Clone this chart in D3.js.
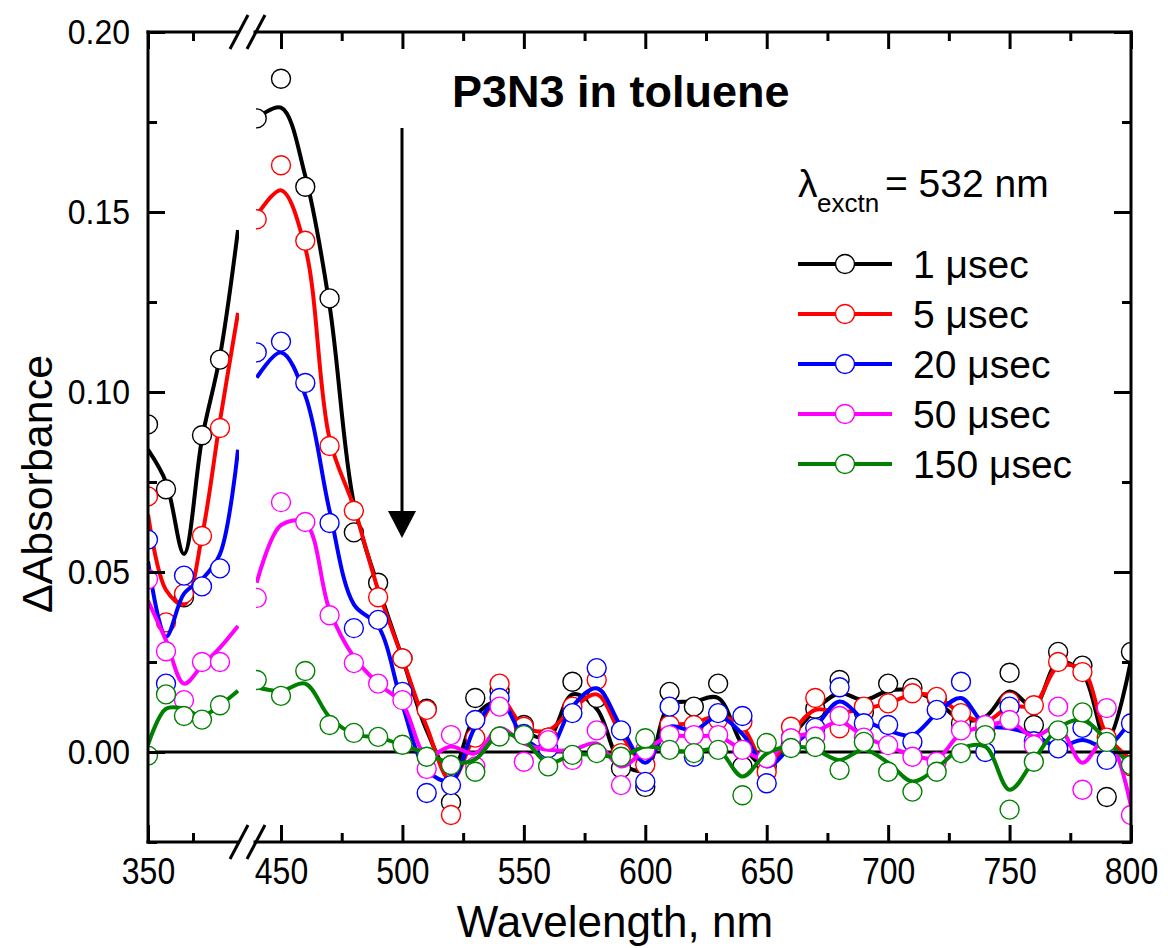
<!DOCTYPE html>
<html>
<head>
<meta charset="utf-8">
<script src="https://cdn.jsdelivr.net/npm/d3@7"></script>
<style>
  html, body { margin: 0; padding: 0; background: #fff; }
  svg text { font-family: "Liberation Sans", Arial, Helvetica, sans-serif; fill: #000; }
</style>
</head>
<body>
<svg id="chart" width="1168" height="948"></svg>
<script>
// Wavelengths (nm); the axis is broken between 400 and 440 nm
const wavelengths = [350, 360, 370, 380, 390, 400,
  440, 450, 460, 470, 480, 490, 500, 510, 520, 530,
  540, 550, 560, 570, 580, 590, 600, 610, 620, 630,
  640, 650, 660, 670, 680, 690, 700, 710, 720, 730,
  740, 750, 760, 770, 780, 790, 800];

const seriesNames = ["1 μsec", "5 μsec", "20 μsec", "50 μsec", "150 μsec"];
const seriesColors = ["#000000", "#ff0000", "#0000ff", "#ff00ff", "#008000"];

// Measured transient absorbance (open circles)
const pts1 = [0.091, 0.073, 0.043, 0.088, 0.109, null,
  0.176, 0.187, 0.157, 0.126, 0.061, 0.047, 0.026, 0.012, -0.014, 0.015,
  0.017, 0.0075, 0.004, 0.0195, 0.015, -0.0045, -0.0097, 0.0167, 0.0126, 0.019,
  -0.004, -0.004, 0.004, 0.012, 0.020, 0.011, 0.019, 0.0178, 0.015, 0.008,
  0.005, 0.022, 0.0075, 0.0278, 0.024, -0.0125, 0.0278];
const pts5 = [0.071, 0.036, 0.044, 0.060, 0.090, null,
  0.148, 0.163, 0.142, 0.085, 0.067, 0.043, 0.026, 0.0117, -0.0175, 0.004,
  0.019, 0.007, 0.004, 0.0126, 0.020, -0.0003, -0.0036, 0.0075, 0.0075, 0.009,
  0.0084, -0.0055, 0.007, 0.015, 0.0066, 0.0126, 0.0135, 0.0163, 0.0153, 0.0108,
  0.007, 0.014, 0.013, 0.025, 0.0222, 0.004, -0.004];
const pts20 = [0.059, 0.019, 0.049, 0.046, 0.051, null,
  0.111, 0.114, 0.1025, 0.0636, 0.0344, 0.0367, 0.0167, -0.0114, -0.0092, 0.0089,
  0.015, 0.005, 0.001, 0.0108, 0.0233, 0.006, -0.0083, 0.0126, -0.0013, 0.0108,
  0.010, -0.0087, 0.002, 0.0067, 0.018, 0.008, 0.0075, 0.0028, 0.0117, 0.0195,
  0.0, 0.0126, 0.003, 0.001, 0.0067, -0.0022, 0.008];
const pts50 = [0.048, 0.028, 0.0144, 0.025, 0.025, null,
  0.0428, 0.0694, 0.0639, 0.038, 0.0247, 0.019, 0.0144, -0.0047, 0.0047, -0.004,
  0.0126, -0.0027, 0.0033, -0.0022, 0.006, -0.0092, 0.0006, 0.0047, 0.0047, 0.0047,
  0.0006, -0.0017, 0.0038, 0.0043, 0.010, 0.004, 0.0019, -0.0013, -0.0027, 0.006,
  0.0075, 0.0089, 0.0019, 0.0126, -0.0105, 0.0122, -0.0175];
const pts150 = [-0.001, 0.016, 0.010, 0.009, 0.013, null,
  0.020, 0.0156, 0.0225, 0.0075, 0.0053, 0.0042, 0.002, -0.0013, -0.0036, -0.0055,
  0.0043, 0.0047, -0.004, -0.0008, -0.0003, -0.0013, 0.0038, 0.0006, -0.0003, 0.0006,
  -0.012, 0.0025, 0.0011, 0.0014, -0.005, 0.0028, -0.0055, -0.011, -0.0055, -0.0003,
  0.0047, -0.016, -0.0027, 0.006, 0.011, 0.0028, -0.0036];

// Smoothed traces (solid curves)
const fit1 = [0.084, 0.075, 0.055, 0.087, 0.110, 0.145,
  0.176, 0.179, 0.160, 0.124, 0.069, 0.046, 0.026, 0.006, -0.006, 0.010,
  0.014, 0.006, 0.004, 0.016, 0.012, -0.003, -0.005, 0.013, 0.014, 0.015,
  0.002, -0.004, 0.004, 0.0117, 0.0163, 0.0144, 0.017, 0.017, 0.014, 0.009,
  0.0098, 0.0168, 0.0126, 0.025, 0.022, 0.003, 0.0255];
const fit5 = [0.066, 0.045, 0.041, 0.060, 0.092, 0.122,
  0.149, 0.156, 0.140, 0.087, 0.068, 0.045, 0.026, 0.007, -0.008, 0.005,
  0.015, 0.007, 0.006, 0.012, 0.016, 0.005, -0.003, 0.007, 0.008, 0.010,
  0.007, -0.004, 0.005, 0.0117, 0.011, 0.012, 0.0135, 0.016, 0.0154, 0.0107,
  0.0084, 0.0126, 0.013, 0.0237, 0.0228, 0.0047, -0.002];
const fit20 = [0.053, 0.032, 0.044, 0.048, 0.055, 0.084,
  0.104, 0.111, 0.099, 0.067, 0.041, 0.035, 0.013, -0.005, -0.008, 0.007,
  0.0144, 0.004, 0.0006, 0.0126, 0.0177, 0.007, -0.003, 0.007, 0.006, 0.0098,
  0.005, -0.004, 0.0015, 0.007, 0.014, 0.009, 0.006, 0.0047, 0.0107, 0.015,
  0.0075, 0.0066, 0.0047, 0.0015, 0.0033, 0.0015, 0.009];
const fit50 = [0.042, 0.031, 0.019, 0.024, 0.029, 0.035,
  0.047, 0.063, 0.0636, 0.0394, 0.0264, 0.019, 0.0134, -0.001, 0.0015, -0.0004,
  0.0066, 0.0024, 0.0006, 0.0006, 0.0024, -0.004, 0.0006, 0.0043, 0.0043, 0.0043,
  0.0006, -0.002, 0.0038, 0.0056, 0.0084, 0.0043, 0.0015, -0.0008, -0.0018, 0.0052,
  0.007, 0.0084, 0.0043, 0.007, -0.003, 0.0043, -0.015];
const fit150 = [0.002, 0.012, 0.012, 0.010, 0.013, 0.017,
  0.018, 0.017, 0.019, 0.0097, 0.005, 0.004, 0.002, -0.0004, -0.003, -0.002,
  0.005, 0.0033, -0.003, -0.0008, -0.0008, -0.0013, 0.0015, 0.0006, 0.0001, 0.0006,
  -0.0068, -0.0004, 0.0015, 0.0006, -0.0022, 0.0006, -0.003, -0.0082, -0.0045, 0.001,
  0.0015, -0.0105, -0.0022, 0.0066, 0.0089, 0.0033, -0.004];

const pointSets = [pts1, pts5, pts20, pts50, pts150];
const fitSets = [fit1, fit5, fit20, fit50, fit150];

const yTicks = [0.00, 0.05, 0.10, 0.15, 0.20];
const yMinorTicks = [-0.025, 0.025, 0.075, 0.125, 0.175];
const xLeftTicks = [350];
const xLeftMinor = [375];
const xRightTicks = [450, 500, 550, 600, 650, 700, 750, 800];
const xRightMinor = [475, 525, 575, 625, 675, 725, 775];

const svg = d3.select("#chart");

// Geometry of the broken axis
const plotTop = 32, plotBottom = 842, plotLeft = 148, plotRight = 1131;
const breakLeft = 239, breakRight = 256;

const y = d3.scaleLinear().domain([-0.025, 0.20]).range([plotBottom, plotTop]);
const xL = d3.scaleLinear().domain([350, 400]).range([148, 238]);
const xR = d3.scaleLinear().domain([450, 800]).range([281, 1131]);

const defs = svg.append("defs");
defs.append("clipPath").attr("id", "clipL").append("rect")
  .attr("x", plotLeft).attr("y", plotTop).attr("width", breakLeft - plotLeft).attr("height", plotBottom - plotTop);
defs.append("clipPath").attr("id", "clipR").append("rect")
  .attr("x", breakRight).attr("y", plotTop).attr("width", plotRight - breakRight).attr("height", plotBottom - plotTop);

// Zero line across the full width
svg.append("line")
  .attr("x1", plotLeft).attr("x2", plotRight)
  .attr("y1", y(0)).attr("y2", y(0))
  .attr("stroke", "#000").attr("stroke-width", 3);

const segments = [
  { x: xL, clip: "url(#clipL)", keep: w => w <= 400 },
  { x: xR, clip: "url(#clipR)", keep: w => w >= 440 }
];

seriesNames.forEach((name, s) => {
  segments.forEach(seg => {
    const g = svg.append("g").attr("clip-path", seg.clip);
    const fitData = wavelengths.map((w, i) => ({ w, v: fitSets[s][i] })).filter(d => seg.keep(d.w));
    const ptData = wavelengths.map((w, i) => ({ w, v: pointSets[s][i] }))
      .filter(d => seg.keep(d.w) && d.v !== null);
    const line = d3.line()
      .x(d => seg.x(d.w)).y(d => y(d.v))
      .curve(d3.curveCatmullRom.alpha(0.5));
    g.append("path").datum(fitData)
      .attr("d", line)
      .attr("fill", "none")
      .attr("stroke", seriesColors[s])
      .attr("stroke-width", 4)
      .attr("stroke-linejoin", "round");
    g.selectAll("circle").data(ptData).join("circle")
      .attr("cx", d => seg.x(d.w)).attr("cy", d => y(d.v))
      .attr("r", 9.5)
      .attr("fill", "#fff")
      .attr("stroke", seriesColors[s])
      .attr("stroke-width", 1.4);
  });
});

// Axes: ticks point inward
const tickFont = "32px";
function styleAxis(g) {
  g.select(".domain").remove();
  g.selectAll(".tick line").attr("stroke", "#000").attr("stroke-width", 3);
  g.selectAll(".tick text").style("font-size", tickFont).attr("font-family", null);
}
function stretchXLabels(g, pad) {
  const s = 1.14;
  g.selectAll(".tick text")
    .attr("transform", `scale(1,${s})`)
    .attr("y", pad / s);
}

const bottomPad = 16;
[[xL, xLeftTicks, xLeftMinor], [xR, xRightTicks, xRightMinor]].forEach(([sc, major, minor]) => {
  const gb = svg.append("g").attr("transform", `translate(0,${plotBottom})`)
    .call(d3.axisBottom(sc).tickValues(major).tickSize(-17).tickPadding(bottomPad).tickFormat(d3.format("d")));
  styleAxis(gb);
  stretchXLabels(gb, bottomPad);
  const gbm = svg.append("g").attr("transform", `translate(0,${plotBottom})`)
    .call(d3.axisBottom(sc).tickValues(minor).tickSize(-9).tickFormat(""));
  styleAxis(gbm);
  const gt = svg.append("g").attr("transform", `translate(0,${plotTop})`)
    .call(d3.axisTop(sc).tickValues(major).tickSize(-17).tickFormat(""));
  styleAxis(gt);
  const gtm = svg.append("g").attr("transform", `translate(0,${plotTop})`)
    .call(d3.axisTop(sc).tickValues(minor).tickSize(-9).tickFormat(""));
  styleAxis(gtm);
});

const gl = svg.append("g").attr("transform", `translate(${plotLeft},0)`)
  .call(d3.axisLeft(y).tickValues(yTicks).tickSize(-17).tickPadding(18).tickFormat(d3.format(".2f")));
styleAxis(gl);
gl.selectAll(".tick text").attr("transform", "scale(1,1.1)").attr("y", 0);
svg.append("g").attr("transform", `translate(${plotLeft},0)`)
  .call(d3.axisLeft(y).tickValues(yMinorTicks).tickSize(-9).tickFormat("")).call(styleAxis);
svg.append("g").attr("transform", `translate(${plotRight},0)`)
  .call(d3.axisRight(y).tickValues(yTicks).tickSize(-17).tickFormat("")).call(styleAxis);
svg.append("g").attr("transform", `translate(${plotRight},0)`)
  .call(d3.axisRight(y).tickValues(yMinorTicks).tickSize(-9).tickFormat("")).call(styleAxis);

// Frame with a gap at the axis break
const frame = svg.append("g").attr("stroke", "#000").attr("stroke-width", 3).attr("stroke-linecap", "square");
[plotTop, plotBottom].forEach(yy => {
  frame.append("line").attr("x1", plotLeft).attr("x2", breakLeft - 2).attr("y1", yy).attr("y2", yy);
  frame.append("line").attr("x1", breakRight - 1).attr("x2", plotRight).attr("y1", yy).attr("y2", yy);
  // break marks "//"
  [0, 17].forEach(dx => {
    frame.append("line")
      .attr("x1", 230 + dx).attr("y1", yy + 17)
      .attr("x2", 248 + dx).attr("y2", yy - 17)
      .attr("stroke-linecap", "butt");
  });
});
frame.append("line").attr("x1", plotLeft).attr("x2", plotLeft).attr("y1", plotTop).attr("y2", plotBottom);
frame.append("line").attr("x1", plotRight).attr("x2", plotRight).attr("y1", plotTop).attr("y2", plotBottom);

// Axis titles
svg.append("text")
  .attr("x", 615).attr("y", 937)
  .attr("text-anchor", "middle")
  .style("font-size", "44px")
  .text("Wavelength, nm");
svg.append("text")
  .attr("transform", "translate(52,484) rotate(-90)")
  .attr("text-anchor", "middle")
  .style("font-size", "43px")
  .text("ΔAbsorbance");

// Title
svg.append("text")
  .attr("x", 452).attr("y", 107)
  .style("font-size", "45px").style("font-weight", "bold")
  .text("P3N3 in toluene");

// Arrow showing decay with time
svg.append("line")
  .attr("x1", 402).attr("x2", 402).attr("y1", 128).attr("y2", 514)
  .attr("stroke", "#000").attr("stroke-width", 3);
svg.append("path")
  .attr("d", "M388,511 L416,511 L402,538 Z")
  .attr("fill", "#000");

// Excitation wavelength note
const exc = svg.append("g");
exc.append("text").attr("x", 798).attr("y", 197).style("font-size", "39px").text("λ");
exc.append("text").attr("x", 817).attr("y", 212).style("font-size", "26px").text("exctn");
exc.append("text").attr("x", 885).attr("y", 197).style("font-size", "39px").text("= 532 nm");

// Legend
const legendY0 = 264, legendStep = 50;
seriesNames.forEach((name, s) => {
  const ly = legendY0 + s * legendStep;
  const g = svg.append("g");
  g.append("line").attr("x1", 798).attr("x2", 892).attr("y1", ly).attr("y2", ly)
    .attr("stroke", seriesColors[s]).attr("stroke-width", 4);
  g.append("circle").attr("cx", 845).attr("cy", ly).attr("r", 9.5)
    .attr("fill", "#fff").attr("stroke", seriesColors[s]).attr("stroke-width", 1.4);
  g.append("text").attr("x", 913).attr("y", ly + 14).style("font-size", "39px").text(name);
});
</script>
</body>
</html>
